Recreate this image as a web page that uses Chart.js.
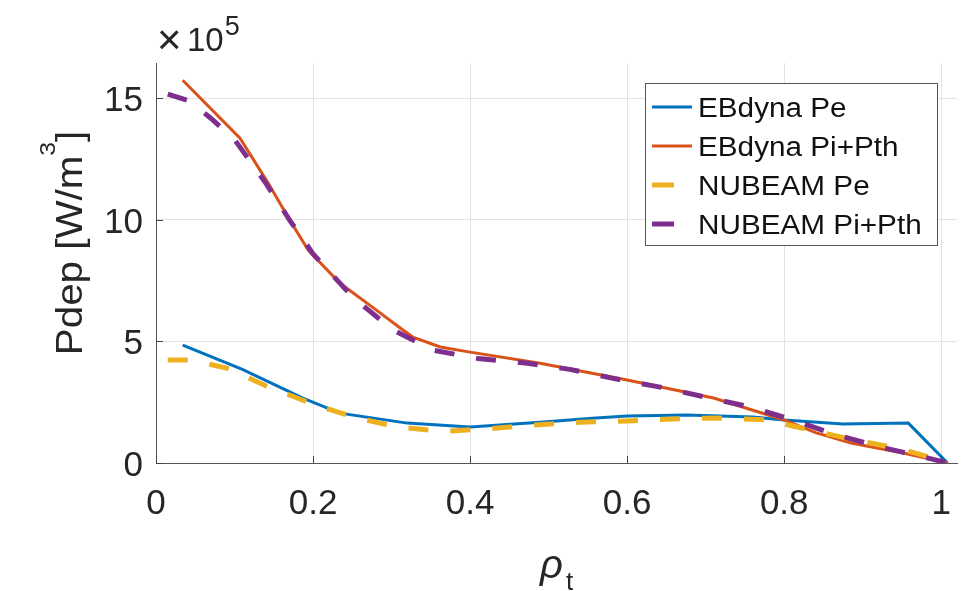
<!DOCTYPE html>
<html>
<head>
<meta charset="utf-8">
<script src="https://cdn.jsdelivr.net/npm/chart.js@4.4.1/dist/chart.umd.min.js"></script>
<style>
  html, body { margin: 0; padding: 0; background: #fff; }
  canvas { display: block; }
</style>
</head>
<body>
<canvas id="grafico" width="980" height="591"></canvas>
<script>
// Dados (rho_t, Pdep em unidades de 1e5 W/m^3)
const ebPeX = [0.034, 0.11, 0.187, 0.234, 0.32, 0.4, 0.489, 0.56, 0.6, 0.676, 0.76, 0.8, 0.875, 0.958, 1.008];
const ebPeY = [4.85, 3.85, 2.67, 2.05, 1.64, 1.48, 1.68, 1.85, 1.93, 1.97, 1.89, 1.77, 1.6, 1.64, 0];

const ebPiX = [0.034, 0.107, 0.143, 0.171, 0.194, 0.234, 0.276, 0.311, 0.327, 0.362, 0.4, 0.489, 0.6, 0.71, 0.8, 0.84, 0.885, 0.95, 1.008];
const ebPiY = [15.74, 13.36, 11.5, 9.95, 8.75, 7.4, 6.4, 5.55, 5.18, 4.77, 4.56, 4.1, 3.41, 2.67, 1.77, 1.25, 0.82, 0.42, 0];

const nbPeX = [0.015, 0.043, 0.09, 0.141, 0.196, 0.25, 0.307, 0.366, 0.42, 0.479, 0.54, 0.6, 0.659, 0.715, 0.778, 0.833, 0.888, 0.948, 1.0];
const nbPeY = [4.24, 4.24, 3.9, 3.16, 2.47, 1.9, 1.48, 1.3, 1.4, 1.56, 1.68, 1.73, 1.81, 1.85, 1.77, 1.36, 0.95, 0.58, 0.1];

const nbPiX = [0.015, 0.043, 0.069, 0.1, 0.14, 0.171, 0.2, 0.251, 0.302, 0.353, 0.41, 0.473, 0.527, 0.582, 0.642, 0.697, 0.757, 0.811, 0.867, 0.922, 0.977, 1.008];
const nbPiY = [15.17, 14.88, 14.2, 13.3, 11.5, 9.95, 8.6, 6.8, 5.47, 4.64, 4.3, 4.1, 3.85, 3.48, 3.12, 2.73, 2.3, 1.77, 1.15, 0.66, 0.25, 0];

const seriesNames = ["EBdyna Pe", "EBdyna Pi+Pth", "NUBEAM Pe", "NUBEAM Pi+Pth"];
const xTicks = [0, 0.2, 0.4, 0.6, 0.8, 1];
const yTicks = [0, 5, 10, 15];

const FONT = '"Liberation Sans", Arial, sans-serif';
const TEXT = "#262626";

function pontos(xs, ys) {
    return xs.map((x, i) => ({ x: x, y: ys[i] }));
}

// Desenha textos, ticks internos e legenda por cima do grafico
const extras = {
    id: "extras",
    afterDraw(chart) {
        const ctx = chart.ctx;
        const xs = chart.scales.x;
        const ys = chart.scales.y;
        const area = chart.chartArea;
        ctx.save();

        // ticks para dentro
        ctx.strokeStyle = "#444";
        ctx.lineWidth = 1;
        xTicks.forEach(v => {
            const px = Math.round(xs.getPixelForValue(v)) + 0.5;
            ctx.beginPath();
            ctx.moveTo(px, area.bottom);
            ctx.lineTo(px, area.bottom - 7);
            ctx.stroke();
        });
        yTicks.forEach(v => {
            const py = Math.round(ys.getPixelForValue(v)) + 0.5;
            ctx.beginPath();
            ctx.moveTo(area.left, py);
            ctx.lineTo(area.left + 7, py);
            ctx.stroke();
        });

        // rotulos dos ticks
        ctx.fillStyle = TEXT;
        ctx.font = "35px " + FONT;
        ctx.textBaseline = "alphabetic";
        ctx.textAlign = "center";
        xTicks.forEach(v => {
            ctx.fillText(String(v), xs.getPixelForValue(v), area.bottom + 51);
        });
        ctx.textAlign = "right";
        yTicks.forEach(v => {
            ctx.fillText(String(v), area.left - 13, ys.getPixelForValue(v) + 13);
        });

        // multiplicador x10^5
        ctx.textAlign = "left";
        ctx.font = "42px " + FONT;
        ctx.fillText("\u00d7", 157, 54);
        ctx.font = "33px " + FONT;
        ctx.fillText("10", 187, 51);
        const w10 = ctx.measureText("10").width;
        ctx.font = "27px " + FONT;
        ctx.fillText("5", 187 + w10 + 1, 35);

        // titulo do eixo y
        ctx.save();
        ctx.translate(82, 243);
        ctx.rotate(-Math.PI / 2);
        ctx.scale(1.12, 1);
        ctx.font = "36px " + FONT;
        const parte1 = "Pdep [W/m";
        const w1 = ctx.measureText(parte1).width;
        ctx.font = "22px " + FONT;
        const w2 = ctx.measureText("3").width;
        ctx.font = "36px " + FONT;
        const w3 = ctx.measureText("]").width;
        let x0 = -(w1 + w2 + w3) / 2;
        ctx.textAlign = "left";
        ctx.fillText(parte1, x0, 0);
        ctx.font = "22px " + FONT;
        ctx.fillText("3", x0 + w1, -27);
        ctx.font = "36px " + FONT;
        ctx.fillText("]", x0 + w1 + w2, 0);
        ctx.restore();

        // titulo do eixo x
        ctx.font = "italic 40px " + FONT;
        ctx.fillText("\u03c1", 540, 578);
        ctx.font = "26px " + FONT;
        ctx.fillText("t", 566, 590);

        // legenda
        const lx = 645, ly = 83, lw = 292, lh = 162;
        ctx.fillStyle = "#fff";
        ctx.fillRect(lx, ly, lw, lh);
        ctx.strokeStyle = "#555";
        ctx.lineWidth = 1;
        ctx.strokeRect(lx + 0.5, ly + 0.5, lw, lh);
        chart.data.datasets.forEach((ds, i) => {
            const cy = 107 + i * 39;
            ctx.strokeStyle = ds.borderColor;
            ctx.lineWidth = ds.borderWidth;
            ctx.beginPath();
            ctx.moveTo(652, cy);
            ctx.lineTo(ds.borderDash ? 674 : 692, cy);
            ctx.stroke();
            ctx.save();
            ctx.translate(698, cy + 10);
            ctx.scale(1.1, 1);
            ctx.fillStyle = "#111";
            ctx.font = "27px " + FONT;
            ctx.textAlign = "left";
            ctx.fillText(ds.label, 0, 0);
            ctx.restore();
        });

        ctx.restore();
    }
};

new Chart(document.getElementById("grafico"), {
    type: "line",
    data: {
        datasets: [
            { label: seriesNames[0], data: pontos(ebPeX, ebPeY), borderColor: "#0072BD", borderWidth: 3, order: 3 },
            { label: seriesNames[1], data: pontos(ebPiX, ebPiY), borderColor: "#D95319", borderWidth: 3, order: 2 },
            { label: seriesNames[2], data: pontos(nbPeX, nbPeY), borderColor: "#EDB120", borderWidth: 5, borderDash: [20, 22], order: 1 },
            { label: seriesNames[3], data: pontos(nbPiX, nbPiY), borderColor: "#7E2F8E", borderWidth: 5, borderDash: [20, 22], order: 0 }
        ]
    },
    options: {
        responsive: false,
        animation: false,
        devicePixelRatio: 1,
        layout: { padding: { left: 0, right: 23, top: 63, bottom: 0 } },
        elements: {
            point: { radius: 0 },
            line: { tension: 0, fill: false, borderCapStyle: "butt" }
        },
        plugins: {
            legend: { display: false },
            tooltip: { enabled: false }
        },
        scales: {
            x: {
                type: "linear",
                min: 0,
                max: 1.02,
                afterBuildTicks: s => { s.ticks = xTicks.map(v => ({ value: v })); },
                afterFit: s => { s.height = 128; },
                ticks: { display: false },
                grid: { color: "#e3e3e3", lineWidth: 1, drawTicks: false },
                border: { color: "#555", width: 1 }
            },
            y: {
                type: "linear",
                min: 0,
                max: 16.45,
                afterBuildTicks: s => { s.ticks = yTicks.map(v => ({ value: v })); },
                afterFit: s => { s.width = 156; },
                ticks: { display: false },
                grid: { color: "#e3e3e3", lineWidth: 1, drawTicks: false },
                border: { color: "#555", width: 1 }
            }
        }
    },
    plugins: [extras]
});
</script>
</body>
</html>
